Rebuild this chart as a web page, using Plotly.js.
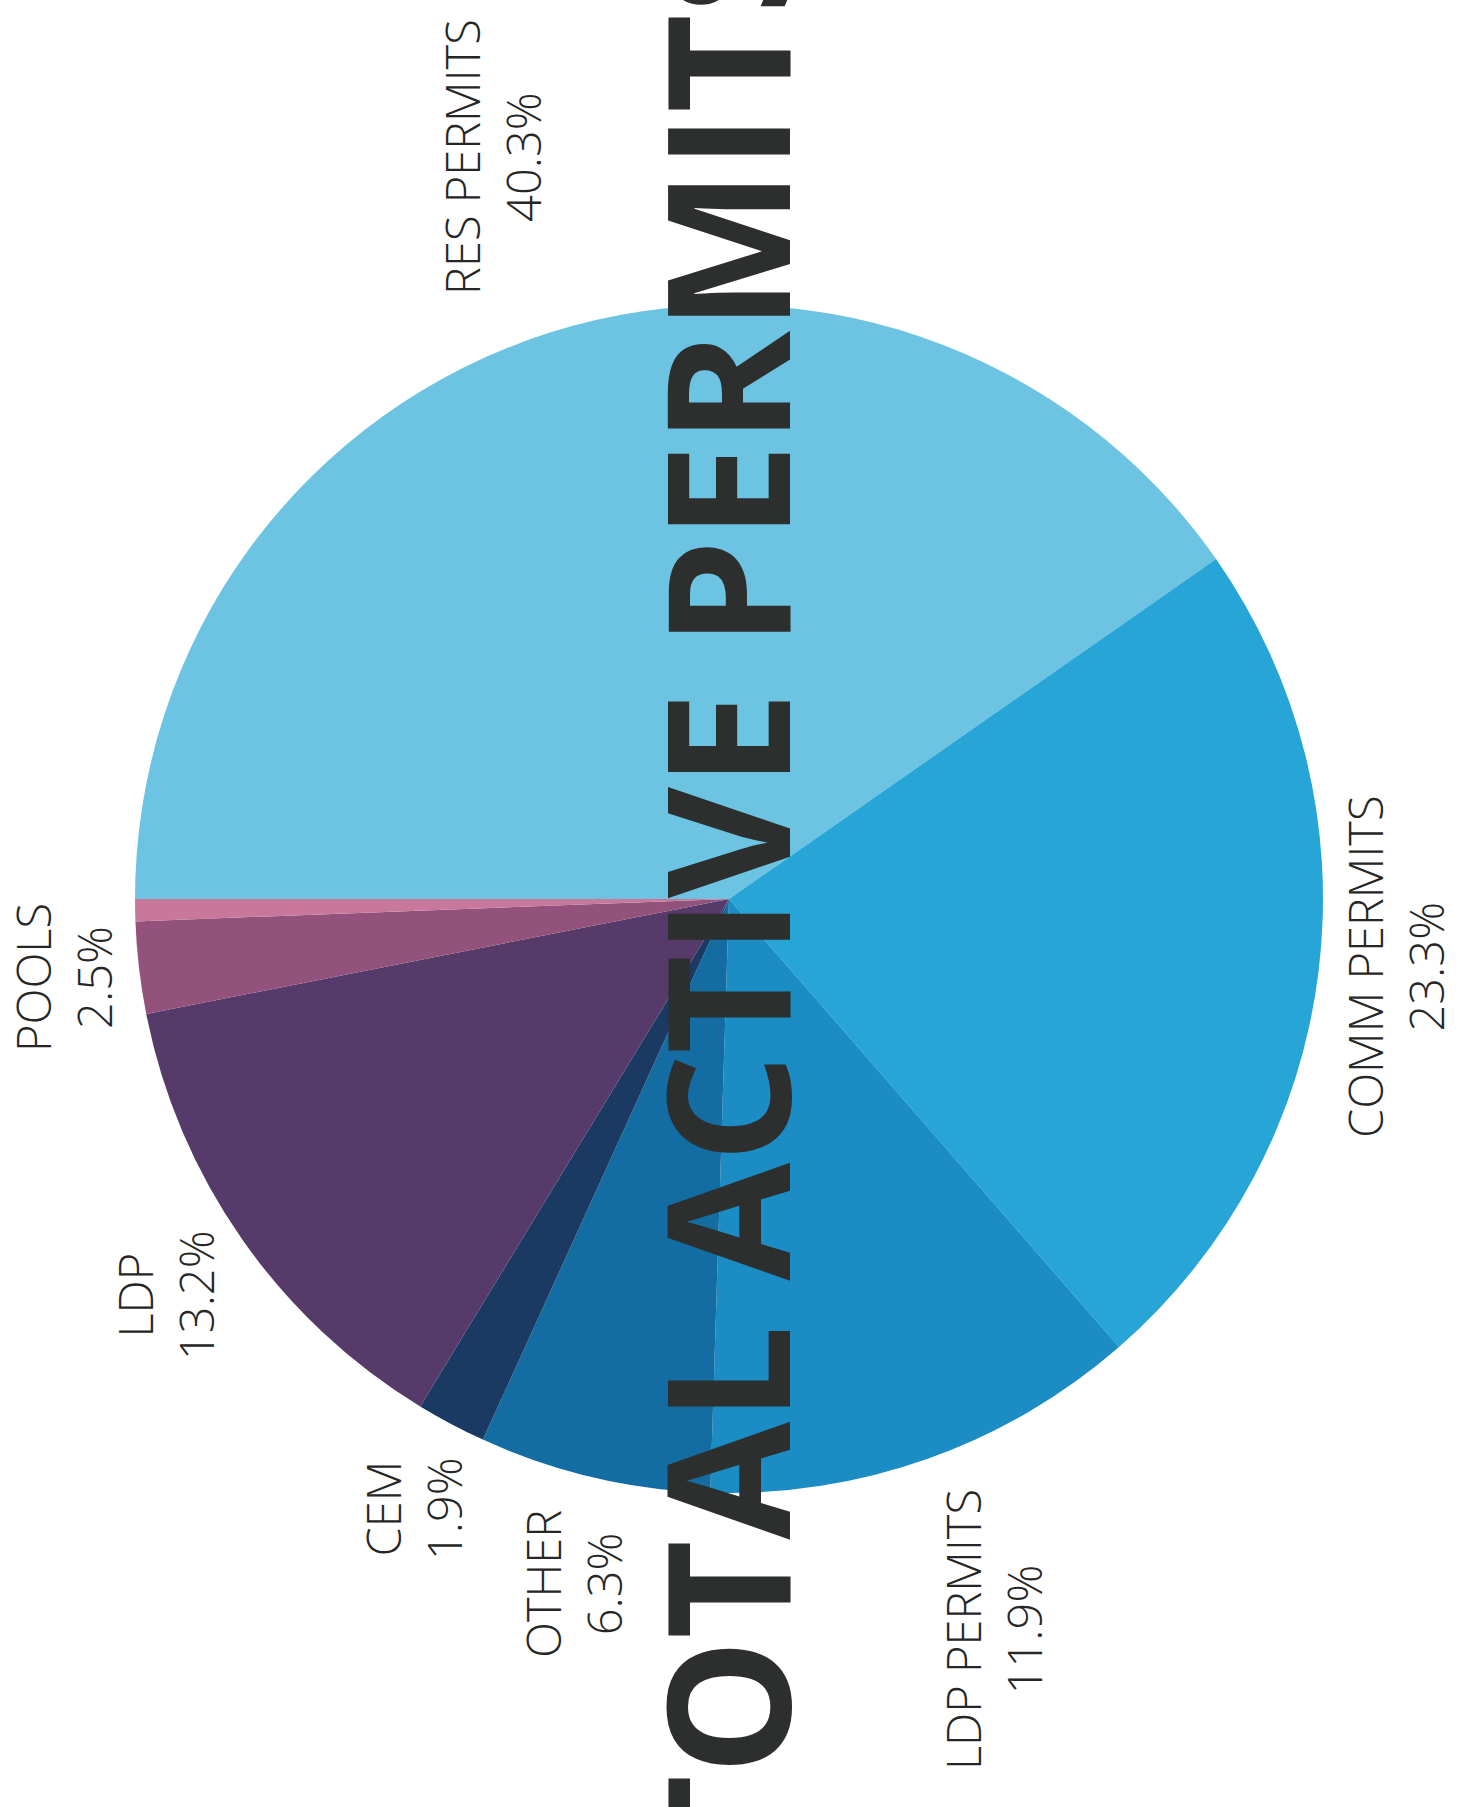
<!DOCTYPE html>
<html>
<head>
<meta charset="utf-8">
<script src="https://cdn.plot.ly/plotly-3.0.1.min.js"></script>
<style>
  html, body { margin: 0; padding: 0; background: #ffffff; }
  #chart { width: 1461px; height: 1807px; }
</style>
</head>
<body>
<div id="chart"></div>
<script>
// ---- data ----
const categories = ['RES PERMITS', 'COMM PERMITS', 'LDP PERMITS', 'OTHER', 'CEM', 'LDP', 'POOLS', ''];
const shares = [40.3, 23.3, 11.9, 6.3, 1.9, 13.2, 2.5, 0.6];
const labelled = [true, true, true, true, true, true, true, false];
const chartTitle = 'TOTAL ACTIVE PERMITS';

// ---- styling / layout ----
const W = 1461, H = 1807;
const sliceColors = ['#6CC4E2', '#27A5D6', '#1C8CC4', '#136CA2', '#1B3A63', '#553A6A', '#93527C', '#C8789A'];
// label block centres in pixels (x from left, y from top), one per labelled slice
const labelPos = [
  [493, 157], [1395, 967], [993, 1630], [573, 1584], [413, 1509], [165, 1295], [63, 978]
];

const cx = 729, cy = 899, r = 594;
const trace = {
  type: 'pie',
  labels: categories,
  values: shares,
  sort: false,
  direction: 'clockwise',
  rotation: -90,
  textinfo: 'none',
  hoverinfo: 'label+percent',
  showlegend: false,
  marker: { colors: sliceColors, line: { width: 0 } },
  domain: {
    x: [(cx - r) / W, (cx + r) / W],
    y: [(H - cy - r) / H, (H - cy + r) / H]
  }
};

const annotations = [];
let k = 0;
categories.forEach((c, i) => {
  if (!labelled[i]) return;
  const p = labelPos[k++];
  annotations.push({
    xref: 'paper', yref: 'paper',
    x: p[0] / W, y: 1 - p[1] / H,
    xanchor: 'center', yanchor: 'middle',
    text: c + '<br>' + shares[i].toFixed(1) + '%',
    textangle: -90,
    showarrow: false,
    align: 'center',
    font: { family: 'Open Sans, Liberation Sans, sans-serif', size: 47, weight: 300, color: '#262626' }
  });
});

annotations.push({
  xref: 'paper', yref: 'paper',
  x: 723 / W, y: 1 - 897 / H,
  xanchor: 'center', yanchor: 'middle',
  text: '<b>' + chartTitle + '</b>',
  textangle: -90,
  showarrow: false,
  font: { family: 'Open Sans, Noto Sans, sans-serif', size: 171, color: '#2d2f2f' }
});

const layout = {
  width: W, height: H,
  margin: { l: 0, r: 0, t: 0, b: 0 },
  paper_bgcolor: '#ffffff',
  plot_bgcolor: '#ffffff',
  showlegend: false,
  annotations: annotations
};

Plotly.newPlot('chart', [trace], layout, { displayModeBar: false, staticPlot: true });
</script>
</body>
</html>
